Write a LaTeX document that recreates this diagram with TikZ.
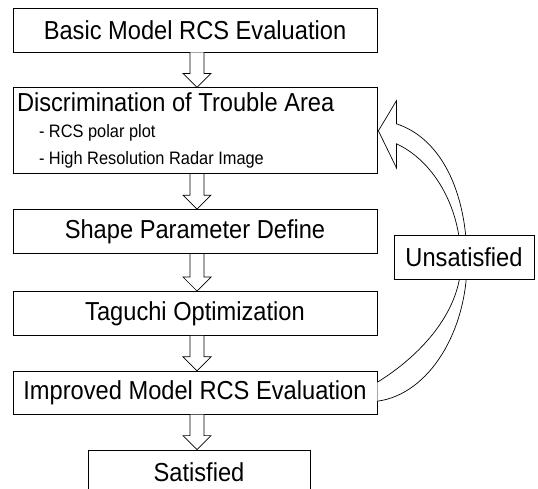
\documentclass[tikz,border=0pt]{standalone}
\usepackage{fontspec}
\setmainfont{Liberation Sans}[FakeStretch=0.91]
\usepackage{tikz}
\usetikzlibrary{positioning,calc}

\newcommand{\bigfont}{\fontsize{26}{29}\selectfont}
\newcommand{\subfont}{\fontsize{18}{23}\selectfont}

% hollow block arrow from the bottom of #2 to the top of #3
\newcommand{\hollowarrow}[3][2]{%
  \draw[hollow] let \p1=($(#2.south)+(#1,0)$), \p2=($(#3.north)+(#1,0)$) in
    (\x1-7pt,\y1) -- (\x1-7pt,\y2+14pt) -- (\x1-14pt,\y2+14pt) -- (\x1,\y2)
    -- (\x1+14pt,\y2+14pt) -- (\x1+7pt,\y2+14pt) -- (\x1+7pt,\y1);
}

\tikzset{
  box/.style={draw, fill=white, line width=0.8pt, minimum width=364pt,
    minimum height=44pt, inner sep=0pt, font=\bigfont},
  hollow/.style={draw, fill=white, line width=0.7pt, line join=miter}
}

\begin{document}
\begin{tikzpicture}[x=1pt,y=-1pt]
  \useasboundingbox (0,0) rectangle (538,488);

  \node[box] (basic) at (195,30) {Basic Model RCS Evaluation};
  \node[box, minimum height=86pt, inner xsep=4pt, text width=356pt, align=flush left,
    below=35pt of basic] (disc) {Discrimination of Trouble Area\\[-3pt]
    {\subfont\hspace*{22pt}- RCS polar plot}\\[-2pt]
    {\subfont\hspace*{22pt}- High Resolution Radar Image}};
  \node[box, below=35pt of disc] (shape) {Shape Parameter Define};
  \node[box, below=37pt of shape] (taguchi) {Taguchi Optimization};
  \node[box, minimum height=43pt, below=35pt of taguchi] (imp) {Improved Model RCS Evaluation};
  \node[box, minimum width=222pt, below=35pt of imp, xshift=4pt] (sat) {Satisfied};

  \hollowarrow{basic}{disc}
  \hollowarrow{disc}{shape}
  \hollowarrow{shape}{taguchi}
  \hollowarrow{taguchi}{imp}
  \hollowarrow{imp}{sat}

  % feedback loop back to the trouble area
  \draw[hollow] ($(imp.east)+(0,8.5)$) .. controls (430,394) and (467,330) .. (467,262)
    .. controls (467,190) and (440,138) .. ($(disc.east)+(19,-7)$)
    -- ($(disc.east)+(19,-30)$) -- ($(disc.east)+(1,0)$) -- ($(disc.east)+(19,37)$)
    -- ($(disc.east)+(19,13)$)
    .. controls (432,160) and (461,205) .. (461,262)
    .. controls (461,312) and (420,356) .. ($(imp.east)+(0,-10.5)$);

  \node[box, minimum width=140pt] (unsat) at (464,257) {Unsatisfied};
\end{tikzpicture}
\end{document}
